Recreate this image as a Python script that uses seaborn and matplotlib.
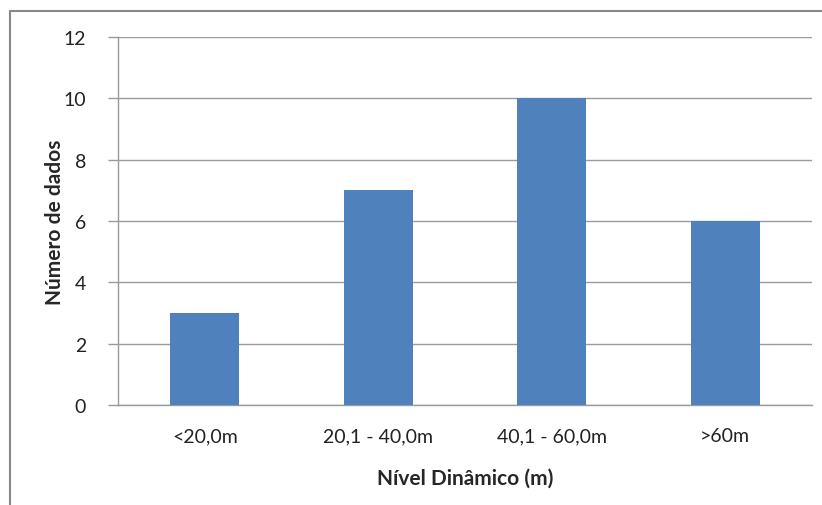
import matplotlib
matplotlib.use("Agg")
import matplotlib.pyplot as plt
from matplotlib.lines import Line2D
import seaborn as sns
import pandas as pd

categories = ["<20,0m", "20,1 - 40,0m", "40,1 - 60,0m", ">60m"]
counts = [3, 7, 10, 6]
y_ticks = [0, 2, 4, 6, 8, 10, 12]

sns.set_theme(style="white")
plt.rcParams["font.family"] = ["Lato", "DejaVu Sans"]

df = pd.DataFrame({"faixa": categories, "n": counts})

fig = plt.figure(figsize=(8.22, 5.06), dpi=100)
ax = fig.add_axes([118 / 822, 1 - 406 / 506, (812 - 118) / 822, (406 - 38) / 506])

sns.barplot(data=df, x="faixa", y="n", color="#4F81BD", saturation=1,
            width=0.4, linewidth=0, ax=ax, zorder=3)

ax.set_ylim(0, 12)
ax.set_xlim(-0.5, 3.5)
ax.set_yticks(y_ticks)
ax.set_yticklabels([str(v) for v in y_ticks], fontsize=14, color="#222222")
ax.tick_params(axis="x", labelsize=14, colors="#222222", length=0, pad=16)
ax.tick_params(axis="y", length=7, width=1, color="#999999", left=True, pad=16)

ax.grid(axis="y", color="#9a9a9a", linewidth=1, zorder=0)
ax.grid(axis="x", visible=False)
for side in ["top", "right"]:
    ax.spines[side].set_visible(False)
ax.spines["left"].set_color("#9a9a9a")
ax.spines["bottom"].set_color("#9a9a9a")
ax.spines["left"].set_linewidth(1)
ax.spines["bottom"].set_linewidth(1)

ax.set_xlabel("Nível Dinâmico (m)", fontsize=15, fontweight="bold", labelpad=17)
ax.set_ylabel("Número de dados", fontsize=15, fontweight="bold", labelpad=-1)

# chart frame (left and top edges)
fig.add_artist(Line2D([10 / 822, 10 / 822], [0, 1 - 12 / 506], transform=fig.transFigure,
                      color="#888888", linewidth=1.5))
fig.add_artist(Line2D([10 / 822, 1], [1 - 12 / 506, 1 - 12 / 506], transform=fig.transFigure,
                      color="#888888", linewidth=1.5))

fig.savefig("out.png", dpi=100, facecolor="white")
